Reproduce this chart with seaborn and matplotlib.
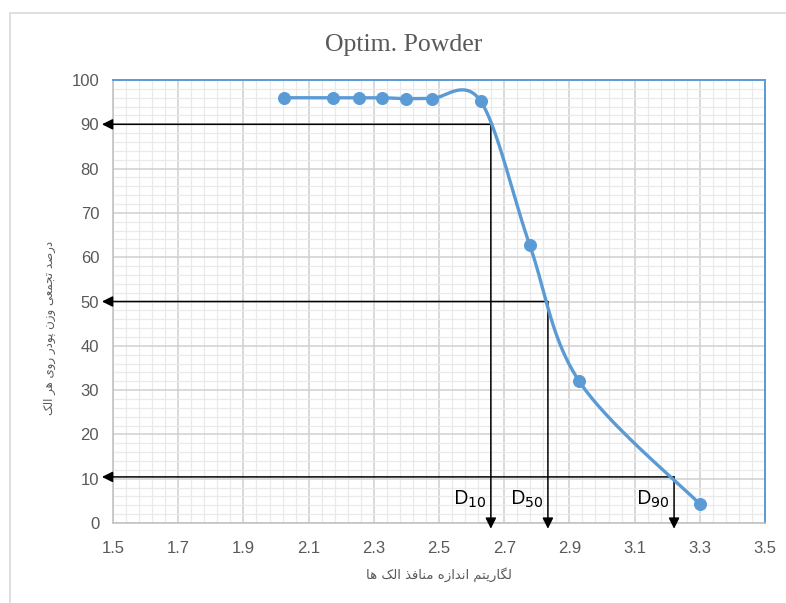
import numpy as np
import pandas as pd
import matplotlib
matplotlib.use("Agg")
import matplotlib.pyplot as plt
from matplotlib.patches import Rectangle
import seaborn as sns

# sieve data (log of sieve opening vs cumulative retained %)
log_size = [2.025, 2.176, 2.255, 2.326, 2.398, 2.477, 2.628, 2.778, 2.929, 3.301]
cum_weight = [96.0, 96.0, 96.0, 96.0, 95.8, 95.8, 95.2, 62.8, 32.1, 4.2]

# D10 / D50 / D90 read-off lines
d_names = ["D$_{10}$", "D$_{50}$", "D$_{90}$"]
d_levels = [90, 50, 10.4]
d_sizes = [2.659, 2.834, 3.221]

title = "Optim. Powder"
xlabel = "لگاریتم اندازه منافذ الک ها"
ylabel = "درصد تجمعی وزن پودر روی هر الک"
x_ticks = [1.5, 1.7, 1.9, 2.1, 2.3, 2.5, 2.7, 2.9, 3.1, 3.3, 3.5]
y_ticks = list(range(0, 101, 10))

BLUE = "#5B9BD5"
GRAY_TXT = "#595959"

# minimal arabic/persian shaping (matplotlib has no bidi support)
FORMS = {
    "ا": ("\uFE8D", "\uFE8E", None, None),
    "د": ("\uFEA9", "\uFEAA", None, None),
    "ذ": ("\uFEAB", "\uFEAC", None, None),
    "ر": ("\uFEAD", "\uFEAE", None, None),
    "ز": ("\uFEAF", "\uFEB0", None, None),
    "و": ("\uFEED", "\uFEEE", None, None),
    "ص": ("\uFEB9", "\uFEBA", "\uFEBB", "\uFEBC"),
    "ت": ("\uFE95", "\uFE96", "\uFE97", "\uFE98"),
    "ج": ("\uFE9D", "\uFE9E", "\uFE9F", "\uFEA0"),
    "م": ("\uFEE1", "\uFEE2", "\uFEE3", "\uFEE4"),
    "ع": ("\uFEC9", "\uFECA", "\uFECB", "\uFECC"),
    "ن": ("\uFEE5", "\uFEE6", "\uFEE7", "\uFEE8"),
    "ه": ("\uFEE9", "\uFEEA", "\uFEEB", "\uFEEC"),
    "ل": ("\uFEDD", "\uFEDE", "\uFEDF", "\uFEE0"),
    "ف": ("\uFED1", "\uFED2", "\uFED3", "\uFED4"),
    "ی": ("\uFBFC", "\uFBFD", "\uFBFE", "\uFBFF"),
    "ک": ("\uFB8E", "\uFB8F", "\uFB90", "\uFB91"),
    "گ": ("\uFB92", "\uFB93", "\uFB94", "\uFB95"),
    "پ": ("\uFB56", "\uFB57", "\uFB58", "\uFB59"),
}


def shape(text):
    out = []
    for i, ch in enumerate(text):
        if ch not in FORMS:
            out.append(ch)
            continue
        prev = text[i - 1] if i > 0 else " "
        nxt = text[i + 1] if i + 1 < len(text) else " "
        join_prev = prev in FORMS and FORMS[prev][2] is not None
        join_next = FORMS[ch][2] is not None and nxt in FORMS
        iso, fin, ini, med = FORMS[ch]
        if join_prev and join_next:
            out.append(med)
        elif join_prev:
            out.append(fin)
        elif join_next:
            out.append(ini)
        else:
            out.append(iso)
    return "".join(out)[::-1]


def smooth(xs, ys, n=40):
    # bezier smoothing like excel's "smoothed line"
    p = np.column_stack([xs, ys])
    pts = []
    for i in range(len(p) - 1):
        p0, p3 = p[i], p[i + 1]
        pm = p[i - 1] if i > 0 else p0
        pn = p[i + 2] if i + 2 < len(p) else p3
        p1 = p0 + (p3 - pm) / 6
        p2 = p3 - (pn - p0) / 6
        t = np.linspace(0, 1, n)[:, None]
        seg = (1 - t) ** 3 * p0 + 3 * (1 - t) ** 2 * t * p1 + 3 * (1 - t) * t ** 2 * p2 + t ** 3 * p3
        pts.append(seg if i == 0 else seg[1:])
    pts = np.vstack(pts)
    return pts[:, 0], pts[:, 1]


sns.set_style("white")
plt.rcParams["font.family"] = ["Liberation Sans", "DejaVu Sans"]

df = pd.DataFrame({"log_size": log_size, "cum_weight": cum_weight})
sx, sy = smooth(df["log_size"].values, df["cum_weight"].values)
curve = pd.DataFrame({"x": sx, "y": sy})

fig = plt.figure(figsize=(7.86, 6.03), dpi=100)
ax = fig.add_axes([0.1438, 0.1327, 0.8295, 0.7346])

# outer chart border
fig.patches.append(Rectangle((10 / 786, -0.1), 1.2, 1 - 13 / 603 + 0.1, transform=fig.transFigure,
                             fill=False, edgecolor="#D9D9D9", lw=1.2))

sns.lineplot(data=curve, x="x", y="y", sort=False, estimator=None, color=BLUE, lw=2.4, ax=ax, zorder=4)
sns.scatterplot(data=df, x="log_size", y="cum_weight", color=BLUE, s=75, edgecolor=BLUE, ax=ax, zorder=5)

# read-off arrows
for name, lev, xs in zip(d_names, d_levels, d_sizes):
    ax.annotate("", xy=(1.466, lev), xytext=(xs, lev), annotation_clip=False,
                arrowprops=dict(arrowstyle="-|>", color="black", lw=1.1, mutation_scale=16,
                                shrinkA=0, shrinkB=0), zorder=3)
    ax.annotate("", xy=(xs, -1.3), xytext=(xs, lev), annotation_clip=False,
                arrowprops=dict(arrowstyle="-|>", color="black", lw=1.1, mutation_scale=16,
                                shrinkA=0, shrinkB=0), zorder=3)
    ax.text(xs - 0.065, 5.3, name, fontsize=14.5, ha="center", va="center", color="black",
            family="Open Sans")

ax.set_xlim(1.5, 3.5)
ax.set_ylim(0, 100)
ax.set_xticks(x_ticks)
ax.set_xticklabels([f"{t:.1f}" for t in x_ticks])
ax.set_yticks(y_ticks)
ax.set_xticks(np.arange(1.5, 3.5001, 0.04), minor=True)
ax.set_yticks(np.arange(0, 100.001, 2), minor=True)
ax.grid(which="major", color="#D0D0D0", lw=1.1)
ax.grid(which="minor", color="#EAEAEA", lw=0.9)
ax.set_axisbelow(True)
ax.tick_params(which="major", axis="both", direction="out", length=5, width=1, color="#BFBFBF",
               labelcolor=GRAY_TXT, labelsize=12, pad=5)
ax.tick_params(which="major", axis="x", pad=8)
ax.tick_params(which="minor", length=0)

for side in ["left", "bottom"]:
    ax.spines[side].set_color("#BFBFBF")
    ax.spines[side].set_linewidth(1.1)
for side in ["top", "right"]:
    ax.spines[side].set_color(BLUE)
    ax.spines[side].set_linewidth(1.4)

ax.set_xlabel(shape(xlabel), family="DejaVu Sans", fontsize=9.5, color=GRAY_TXT)
ax.xaxis.set_label_coords(0.5, -0.101)
ax.set_ylabel(shape(ylabel), family="DejaVu Sans", fontsize=8.5, color=GRAY_TXT)
ax.yaxis.set_label_coords(-0.088, 0.44)
fig.text(0.514, 1 - 45 / 603, title, family="Liberation Serif", fontsize=18.5, color=GRAY_TXT,
         ha="center", va="center")

fig.savefig("out.png", dpi=100)
